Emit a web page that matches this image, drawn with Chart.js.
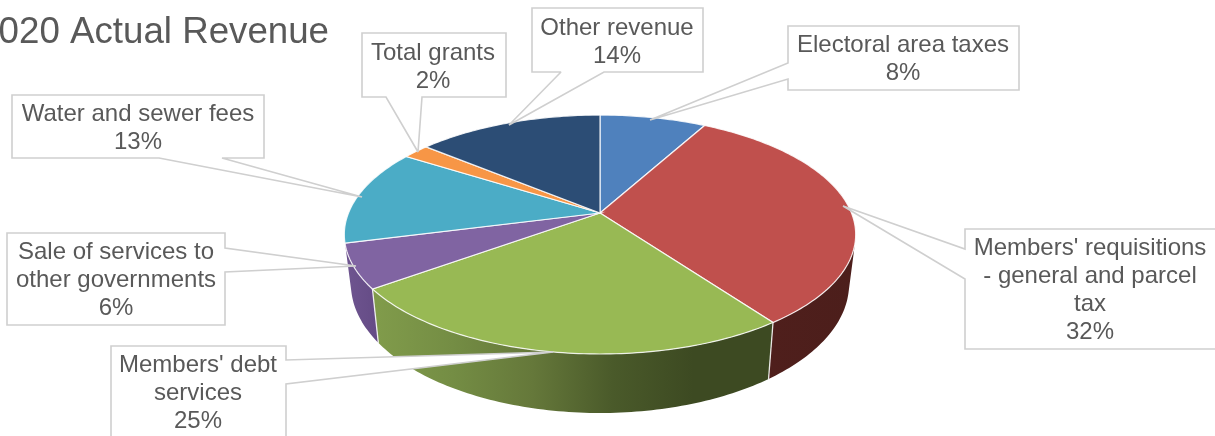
<!DOCTYPE html>
<html>
<head>
<meta charset="utf-8">
<style>html,body{margin:0;padding:0;background:#fff;overflow:hidden}canvas{display:block}</style>
<script src="https://cdn.jsdelivr.net/npm/chart.js@4"></script>
</head>
<body>
<canvas id="c" width="1215" height="436"></canvas>
<script>
const chartTitle = "2020 Actual Revenue";
const categories = ["Electoral area taxes","Members' requisitions - general and parcel tax","Members' debt services","Sale of services to other governments","Water and sewer fees","Total grants","Other revenue"];
const values = [8,32,25,6,13,2,14];
const labelLines = [["Electoral area taxes"],["Members' requisitions","- general and parcel","tax"],["Members' debt","services"],["Sale of services to","other governments"],["Water and sewer fees"],["Total grants"],["Other revenue"]];
const colors = ["#4f81bd","#c0504d","#98b954","#8064a2","#4bacc6","#f79646","#2c4d75"];
const wallStops = [
  ["#3a5f8c","#3a5f8c"],
  ["#4f1f1c","#4c1e1b"],
  ["#819c4b","#748d44","#65783a","#4a5a2a","#3d4a22","#3d4a22"],
  ["#6f5590","#644b85"],
  ["#3c8aa0","#3c8aa0"],
  ["#c57838","#c57838"],
  ["#233e5e","#233e5e"]
];
// callout geometry: box [x0,y0,x1,y1], side the tail leaves from, tail span, anchor, text centre, first line centre
const callouts = [
  {box:[788,26,1019,90],side:"left",t:[63,79],a:[650,120],cx:903,y:45},
  {box:[965,229,1220,349],side:"left",t:[249,279],a:[843,206],cx:1090,y:248},
  {box:[111,346,286,450],side:"right",t:[360,384],a:[553,352],cx:198,y:365},
  {box:[7,233,225,325],side:"right",t:[248,272],a:[356,266],cx:116,y:252},
  {box:[12,95,264,158],side:"bottom",t:[159,222],a:[362,197],cx:138,y:114},
  {box:[362,33,506,97],side:"bottom",t:[386,422],a:[418,152],cx:433,y:53},
  {box:[532,8,703,72],side:"bottom",t:[561,604],a:[509,125],cx:617,y:28}
];
const CX=600, CY=213, R=251.5, B=115.6, K=0.18;
const R2=245, B2=124.8, D2=47.8;
function topPt(a){const u=Math.cos(a),v=Math.sin(a),w=1-K*v;return [CX+R*u/w,CY+B*v/w];}
function botPt(a){const u=Math.cos(a),v=Math.sin(a),w=1-K*v;return [CX+R2*u/w,CY+D2+B2*v/w];}
const STEP=Math.PI/180;

const pie3d={
  id:"pie3d",
  beforeDatasetDraw(chart){
    const ctx=chart.ctx, arcs=chart.getDatasetMeta(0).data;
    ctx.save();
    // walls: one polygon for the front-facing part of each slice
    arcs.forEach((arc,i)=>{
      const a0=arc.startAngle,a1=arc.endAngle;
      const n=Math.max(2,Math.ceil((a1-a0)/STEP));
      const ang=[];
      for(let j=0;j<=n;j++){const p=a0+(a1-a0)*j/n;if(Math.sin(p)>=0.24) ang.push(p);}
      if(ang.length<2) return;
      const tops=ang.map(topPt),bots=ang.map(botPt);
      const xs=tops.concat(bots).map(p=>p[0]);
      const g=ctx.createLinearGradient(Math.min(...xs),0,Math.max(...xs),0);
      wallStops[i].forEach((c,k,l)=>g.addColorStop(k/(l.length-1),c));
      ctx.beginPath();
      tops.forEach((p,k)=>k?ctx.lineTo(p[0],p[1]):ctx.moveTo(p[0],p[1]));
      bots.reverse().forEach(p=>ctx.lineTo(p[0],p[1]));
      ctx.closePath();
      ctx.fillStyle=g;ctx.fill();
    });
    // seams on the side wall
    ctx.strokeStyle="rgba(255,255,255,0.85)";ctx.lineWidth=1.3;
    arcs.forEach(arc=>{
      const a=arc.endAngle;
      if(Math.sin(a)<0.3) return;
      const A=topPt(a),F=botPt(a);
      ctx.beginPath();ctx.moveTo(A[0],A[1]);ctx.lineTo(F[0],F[1]);ctx.stroke();
    });
    // top faces
    arcs.forEach((arc,i)=>{
      const a0=arc.startAngle,a1=arc.endAngle;
      const n=Math.max(2,Math.ceil((a1-a0)/STEP));
      ctx.beginPath();ctx.moveTo(CX,CY);
      for(let j=0;j<=n;j++){const P=topPt(a0+(a1-a0)*j/n);ctx.lineTo(P[0],P[1]);}
      ctx.closePath();
      ctx.fillStyle=colors[i];ctx.fill();
      ctx.strokeStyle="rgba(255,255,255,0.85)";ctx.lineWidth=1.2;ctx.stroke();
    });
    ctx.restore();
    return false;
  },
  afterDatasetsDraw(chart){
    const ctx=chart.ctx;
    ctx.save();
    // title (runs off the left edge, as in the source)
    ctx.font='36.7px "Liberation Sans"';
    ctx.fillStyle="#595959";ctx.textAlign="right";ctx.textBaseline="alphabetic";
    ctx.fillText(chartTitle,329,43);
    // callouts
    ctx.font='24px "Liberation Sans"';
    ctx.textBaseline="middle";ctx.textAlign="center";
    callouts.forEach((c,i)=>{
      const [x0,y0,x1,y1]=c.box;
      ctx.beginPath();
      ctx.moveTo(x0,y0);
      ctx.lineTo(x1,y0);
      if(c.side==="right"){ctx.lineTo(x1,c.t[0]);ctx.lineTo(c.a[0],c.a[1]);ctx.lineTo(x1,c.t[1]);}
      ctx.lineTo(x1,y1);
      if(c.side==="bottom"){ctx.lineTo(c.t[1],y1);ctx.lineTo(c.a[0],c.a[1]);ctx.lineTo(c.t[0],y1);}
      ctx.lineTo(x0,y1);
      if(c.side==="left"){ctx.lineTo(x0,c.t[1]);ctx.lineTo(c.a[0],c.a[1]);ctx.lineTo(x0,c.t[0]);}
      ctx.closePath();
      ctx.fillStyle="#fff";ctx.fill();
      ctx.strokeStyle="#cfcfcf";ctx.lineWidth=1.6;ctx.lineJoin="miter";ctx.miterLimit=2.5;ctx.stroke();
      ctx.fillStyle="#595959";
      const lines=[...labelLines[i],values[i]+"%"];
      lines.forEach((t,k)=>ctx.fillText(t,c.cx,c.y+k*28.2));
    });
    ctx.restore();
  }
};

new Chart(document.getElementById("c"),{
  type:"pie",
  data:{labels:categories,datasets:[{data:values,backgroundColor:colors}]},
  options:{
    responsive:false,animation:false,
    plugins:{legend:{display:false},tooltip:{enabled:false},title:{display:false,text:chartTitle}}
  },
  plugins:[pie3d]
});
</script>
</body>
</html>
